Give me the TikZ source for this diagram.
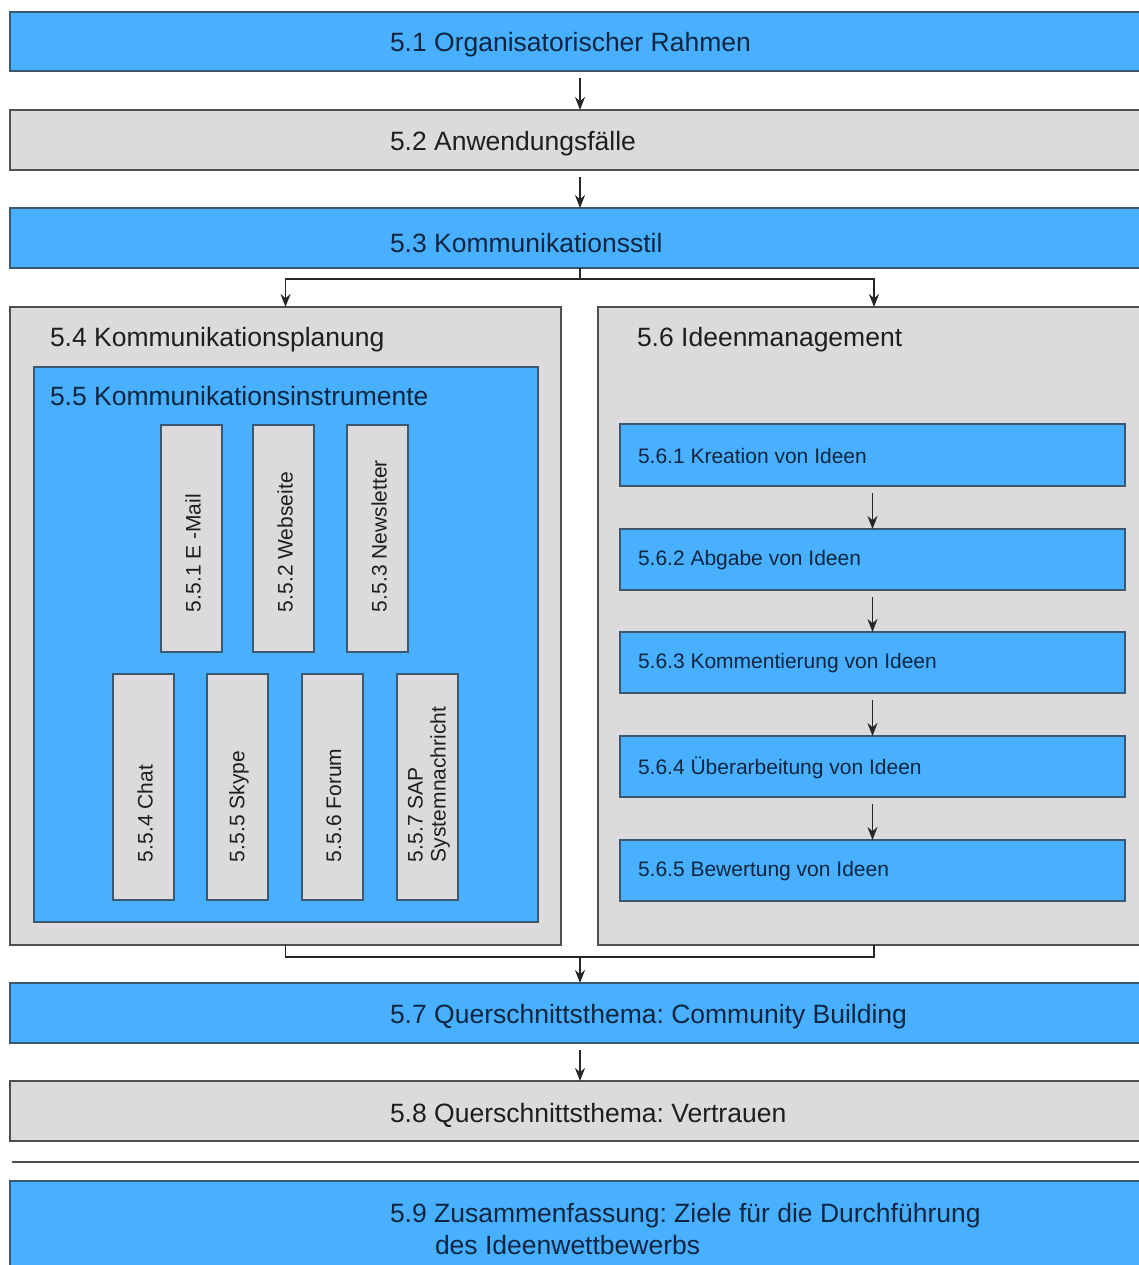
\documentclass[tikz,border=0pt]{standalone}
\usepackage{fontspec}
\setmainfont{Liberation Sans}
\usetikzlibrary{arrows.meta}
\definecolor{barblue}{HTML}{48B0FF}
\definecolor{bluerule}{HTML}{3A5870}
\definecolor{boxgray}{HTML}{DCDADA}
\definecolor{grayrule}{HTML}{505050}
\definecolor{navytext}{HTML}{0C2642}
\definecolor{darktext}{HTML}{1E1E1E}
\frenchspacing
\begin{document}
\begin{tikzpicture}[x=1pt,y=-1pt,
  every node/.style={inner sep=0pt, outer sep=0pt},
  bluebox/.style={draw=bluerule, line width=1.6pt, fill=barblue, anchor=north west, rectangle},
  graybox/.style={draw=grayrule, line width=1.6pt, fill=boxgray, anchor=north west, rectangle},
  bigtxt/.style={anchor=west, font=\fontsize{26.5}{32}\selectfont, align=left},
  smalltxt/.style={anchor=west, font=\fontsize{21}{24}\selectfont, align=left},
  ontblue/.style={text=navytext},
  ongray/.style={text=darktext},
  vbox/.style={draw=bluerule, line width=1.4pt, fill=boxgray, minimum width=61pt, rectangle},
  vtxt/.style={rotate=90, anchor=west, font=\fontsize{21}{23}\selectfont, align=left, text=darktext},
  conn/.style={draw=black!85, line width=1.8pt},
  arr/.style={conn, -{Stealth[length=13pt,width=10pt]}},
  gaparr/.style={arr, shorten <=7pt}
]
\clip (0,0) rectangle (1139,1265);
\fill[white] (0,0) rectangle (1139,1265);

% main sequence of bars
\node[bluebox, minimum width=1140pt, minimum height=59pt] (s1) at (10,12) {};
\node[bigtxt, ontblue] (t1) at (390,45) {5.1 Organisatorischer Rahmen};
\node[graybox, minimum width=1140pt, minimum height=60pt] (s2) at (10,110) {};
\node[bigtxt, ongray] (t2) at (390,144) {5.2 Anwendungsfälle};
\node[bluebox, minimum width=1140pt, minimum height=60pt] (s3) at (10,208) {};
\node[bigtxt, ontblue] (t3) at (390,243) {5.3 Kommunikationsstil};

% communication planning column
\node[graybox, minimum width=551pt, minimum height=638pt] (k54) at (10,307) {};
\node[bigtxt, ongray] (t54) at (50,340) {5.4 Kommunikationsplanung};
\node[bluebox, minimum width=504pt, minimum height=555pt] (k55) at (34,367) {};
\node[bigtxt, ontblue] (t55) at (50,396) {5.5 Kommunikationsinstrumente};

% instruments, upper row
\node[vbox, minimum height=227pt] (m1) at (191.5,538.5) {};
\node[vtxt] (m1t) at (193,612) {5.5.1 E -Mail};
\node[vbox, minimum height=227pt] (m2) at (283.5,538.5) {};
\node[vtxt] (m2t) at (285,612) {5.5.2 Webseite};
\node[vbox, minimum height=227pt] (m3) at (377.5,538.5) {};
\node[vtxt] (m3t) at (379,612) {5.5.3 Newsletter};

% instruments, lower row
\node[vbox, minimum height=226pt] (m4) at (143.5,787) {};
\node[vtxt] (m4t) at (145,862) {5.5.4 Chat};
\node[vbox, minimum height=226pt] (m5) at (237.5,787) {};
\node[vtxt] (m5t) at (239,862) {5.5.5 Skype};
\node[vbox, minimum height=226pt] (m6) at (332.5,787) {};
\node[vtxt] (m6t) at (334,862) {5.5.6 Forum};
\node[vbox, minimum height=226pt] (m7) at (427.5,787) {};
\node[vtxt] (m7t) at (429,862) {5.5.7 SAP\\Systemnachricht};

% idea management column
\node[graybox, minimum width=552pt, minimum height=638pt] (k56) at (598,307) {};
\node[bigtxt, ongray] (t56) at (637,340) {5.6 Ideenmanagement};
\node[bluebox, minimum width=505pt, minimum height=62pt] (i1) at (620,424) {};
\node[smalltxt, ontblue] (i1t) at (638,456) {5.6.1 Kreation von Ideen};
\node[bluebox, minimum width=505pt, minimum height=61pt] (i2) at (620,529) {};
\node[smalltxt, ontblue] (i2t) at (638,560.5) {5.6.2 Abgabe von Ideen};
\node[bluebox, minimum width=505pt, minimum height=61pt] (i3) at (620,632) {};
\node[smalltxt, ontblue] (i3t) at (638,663.5) {5.6.3 Kommentierung von Ideen};
\node[bluebox, minimum width=505pt, minimum height=61pt] (i4) at (620,736) {};
\node[smalltxt, ontblue] (i4t) at (638,767.5) {5.6.4 Überarbeitung von Ideen};
\node[bluebox, minimum width=505pt, minimum height=61pt] (i5) at (620,840) {};
\node[smalltxt, ontblue] (i5t) at (638,871.5) {5.6.5 Bewertung von Ideen};

% cross-cutting topics and summary
\node[bluebox, minimum width=1140pt, minimum height=60pt] (s7) at (10,983) {};
\node[bigtxt, ontblue] (t7) at (390,1017) {5.7 Querschnittsthema: Community Building};
\node[graybox, minimum width=1140pt, minimum height=60pt] (s8) at (10,1081) {};
\node[bigtxt, ongray] (t8) at (390,1115) {5.8 Querschnittsthema: Vertrauen};
\draw[grayrule, line width=1.8pt] (12,1162) -- (1150,1162);
\node[bluebox, minimum width=1140pt, minimum height=100pt] (s9) at (10,1181) {};
\node[bigtxt, ontblue] (t9) at (390,1229) {5.9 Zusammenfassung: Ziele für die Durchführung\\\hspace*{45pt}des Ideenwettbewerbs};

% connectors
\draw[gaparr] (s1) -- (s2);
\draw[gaparr] (s2) -- (s3);
\draw[conn] (s3.south) -- ++(0,11) coordinate (br);
\draw[arr] (br) -| (k54.north);
\draw[arr] (br) -| (k56.north);
\draw[gaparr] (i1) -- (i2);
\draw[gaparr] (i2) -- (i3);
\draw[gaparr] (i3) -- (i4);
\draw[gaparr] (i4) -- (i5);
\coordinate (mg) at (580,957);
\draw[conn] (k54.south) |- (mg) -| (k56.south);
\draw[arr] (mg) -- (s7.north);
\draw[gaparr] (s7) -- (s8);
\end{tikzpicture}
\end{document}
